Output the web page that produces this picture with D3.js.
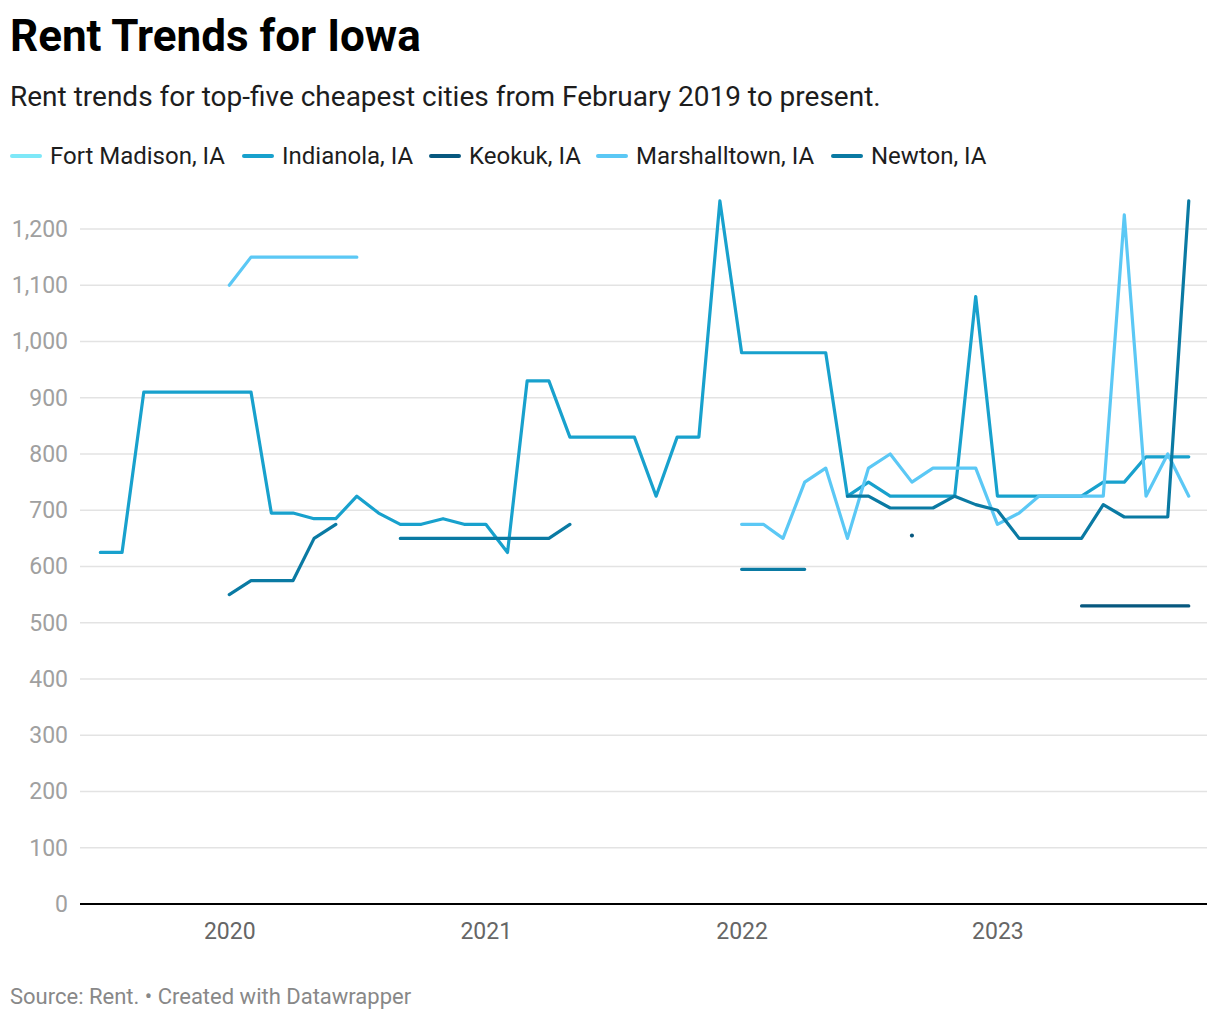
<!DOCTYPE html>
<html>
<head>
<meta charset="utf-8">
<script src="https://cdn.jsdelivr.net/npm/d3@7"></script>
<style>
  body { margin: 0; background: #fff; font-family: Roboto, "Noto Sans", sans-serif; }
  svg { display: block; }
</style>
</head>
<body>
<svg id="chart" width="1220" height="1020"></svg>
<script>
// ---- Data ----
// months from July 2019 to October 2023 (first of month)
const months = d3.timeMonths(new Date(2019, 6, 1), new Date(2023, 10, 1));
const seriesNames = ["Fort Madison, IA", "Indianola, IA", "Keokuk, IA", "Marshalltown, IA", "Newton, IA"];
const seriesColors = ["#7ee8f8", "#18a1cd", "#07587f", "#5bc8f5", "#0a7aa3"];
const N = null;
// Jul 2019 ... Oct 2023 (52 months)
const fortMadison = [
  N,N,N,N,N,N, N,N,N,N,N,N,N,N,N,N,N,N, N,N,N,N,N,N,N,N,N,N,N,N, N,N,N,N,N,N,N,N,N,N,N,N, N,N,N,N,N,N,N,N,N,N
];
const indianola = [
  625,625,910,910,910,910,
  910,910,695,695,685,685,725,695,675,675,685,675,
  675,625,930,930,830,830,830,830,725,830,830,1250,
  980,980,980,980,980,725,750,725,725,725,725,1080,
  725,725,725,725,725,750,750,795,795,795
];
const keokuk = [
  N,N,N,N,N,N,
  N,N,N,N,N,N,N,N,N,N,N,N,
  N,N,N,N,N,N,N,N,N,N,N,N,
  N,N,N,N,N,N,N,N,655,N,N,N,
  N,N,N,N,530,530,530,530,530,530
];
const marshalltown = [
  N,N,N,N,N,N,
  1100,1150,1150,1150,1150,1150,1150,N,N,N,N,N,
  N,N,N,N,N,N,N,N,N,N,N,N,
  675,675,650,750,775,650,775,800,750,775,775,775,
  675,695,725,725,725,725,1225,725,800,725
];
const newton = [
  N,N,N,N,N,N,
  550,575,575,575,650,675,N,N,650,650,650,650,
  650,650,650,650,675,N,N,N,N,N,N,N,
  595,595,595,595,N,725,725,704,704,704,725,710,
  700,650,650,650,650,710,688,688,688,1250
];
const seriesValues = [fortMadison, indianola, keokuk, marshalltown, newton];
const yTicks = [0,100,200,300,400,500,600,700,800,900,1000,1100,1200];
const xTickYears = [2020, 2021, 2022, 2023];

// ---- Layout ----
const svg = d3.select("#chart");
const plotLeft = 80, plotRight = 1207, plotTop = 229, plotBottom = 904;

const x = d3.scaleTime()
  .domain([new Date(2019, 5, 2), new Date(2023, 9, 27)])
  .range([plotLeft, plotRight]);
const y = d3.scaleLinear().domain([0, 1200]).range([plotBottom, plotTop]);

// Title & subtitle
svg.append("text").attr("x", 10).attr("y", 51)
  .attr("font-size", 44).attr("font-weight", 700).attr("fill", "#000")
  .text("Rent Trends for Iowa");
svg.append("text").attr("x", 10).attr("y", 106)
  .attr("font-size", 28).attr("fill", "#1d1d1d")
  .text("Rent trends for top-five cheapest cities from February 2019 to present.");

// Legend
const legendX = [10, 242, 429, 596, 831];
const legend = svg.append("g");
seriesNames.forEach((name, i) => {
  const g = legend.append("g").attr("transform", `translate(${legendX[i]},156)`);
  g.append("line").attr("x1", 2).attr("x2", 30).attr("y1", 0).attr("y2", 0)
    .attr("stroke", seriesColors[i]).attr("stroke-width", 4).attr("stroke-linecap", "round");
  g.append("text").attr("x", 40).attr("y", 0).attr("dy", "0.35em")
    .attr("font-size", 24).attr("fill", "#1d1d1d").text(name);
});

// Y grid + labels
const yAxis = d3.axisLeft(y).tickValues(yTicks).tickSize(0).tickPadding(12)
  .tickFormat(d3.format(","));
const yg = svg.append("g").attr("transform", `translate(${plotLeft},0)`).call(yAxis);
yg.select(".domain").remove();
yg.selectAll("text").attr("font-size", 23).attr("fill", "#a0a0a0")
  .attr("font-family", "Roboto, sans-serif");
svg.append("g").selectAll("line").data(yTicks.filter(d => d > 0)).join("line")
  .attr("x1", plotLeft).attr("x2", plotRight)
  .attr("y1", d => y(d)).attr("y2", d => y(d))
  .attr("stroke", "#e3e3e3").attr("stroke-width", 1.5);

// X axis
const xAxis = d3.axisBottom(x)
  .tickValues(xTickYears.map(yr => new Date(yr, 0, 1)))
  .tickSize(0).tickPadding(19).tickFormat(d3.timeFormat("%Y"));
const xg = svg.append("g").attr("transform", `translate(0,${plotBottom})`).call(xAxis);
xg.select(".domain").remove();
xg.selectAll("text").attr("font-size", 23).attr("fill", "#666")
  .attr("font-family", "Roboto, sans-serif");

// Lines
const line = d3.line()
  .defined(d => d.v !== null)
  .x(d => x(d.date)).y(d => y(d.v));
const plot = svg.append("g");
seriesValues.forEach((vals, i) => {
  const pts = vals.map((v, j) => ({ date: months[j], v }));
  plot.append("path").datum(pts)
    .attr("fill", "none").attr("stroke", seriesColors[i])
    .attr("stroke-width", 3.2).attr("stroke-linejoin", "round").attr("stroke-linecap", "round")
    .attr("d", line);
  // isolated points
  const iso = pts.filter((p, j) => p.v !== null &&
    (j === 0 || pts[j - 1].v === null) && (j === pts.length - 1 || pts[j + 1].v === null));
  plot.selectAll(null).data(iso).join("circle")
    .attr("cx", d => x(d.date)).attr("cy", d => y(d.v)).attr("r", 2)
    .attr("fill", seriesColors[i]);
});

// Baseline
svg.append("line").attr("x1", plotLeft).attr("x2", plotRight)
  .attr("y1", y(0)).attr("y2", y(0)).attr("stroke", "#000").attr("stroke-width", 2);

// Footer
svg.append("text").attr("x", 10).attr("y", 1004)
  .attr("font-size", 22).attr("fill", "#888")
  .text("Source: Rent. • Created with Datawrapper");
</script>
</body>
</html>
